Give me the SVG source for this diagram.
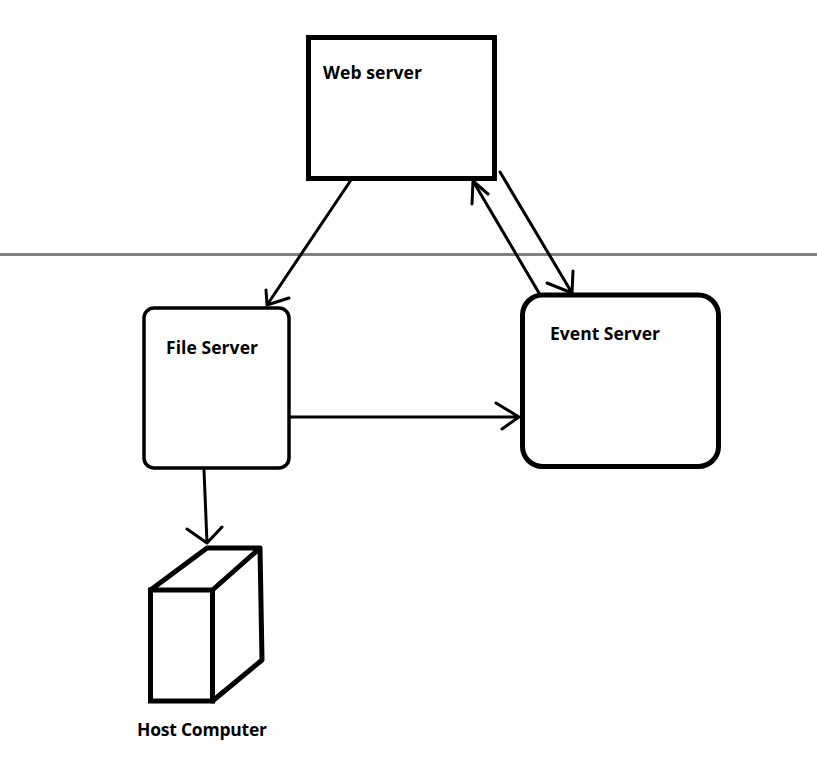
<svg xmlns="http://www.w3.org/2000/svg" width="817" height="773" viewBox="0 0 817 773">
<style>
.n{fill:#fff;stroke:#000;stroke-width:5}
.f{stroke-width:3.500}
.t{fill:none;stroke:#000;stroke-width:5;stroke-linejoin:round;stroke-linecap:round}
.c{fill:none;stroke:#000;stroke-width:3;stroke-linecap:round;stroke-linejoin:round}
text{font-family:"Open Sans","Noto Sans","DejaVu Sans",sans-serif;font-weight:700;font-size:17.500px;fill:#000}
</style>
<rect width="817" height="773" fill="#fff"/>
<line x1="0" y1="254.500" x2="817" y2="254.500" stroke="#808080" stroke-width="3"/>
<g id="web-server"><rect class="n" x="308.500" y="37.500" width="186" height="141"/><text x="323" y="79" textLength="99">Web server</text></g>
<g id="file-server"><rect class="n f" x="144" y="308" width="145" height="160" rx="10"/><text x="166" y="354" textLength="92">File Server</text></g>
<g id="event-server"><rect class="n" x="522.500" y="295" width="196" height="171.500" rx="20"/><text x="550" y="340" textLength="110">Event Server</text></g>
<g id="host-computer"><rect class="n" x="150.500" y="590" width="62" height="111"/><path class="t" d="M150.500 590L207 548H260L212.500 590M260 548L262 660L212.500 701"/><text x="137" y="736" textLength="130">Host Computer</text></g>
<g id="connectors">
<path class="c" d="M351 180L267 305M266 290L267 305L289 298"/>
<path class="c" d="M539 293L473 181M472 204L473 181L488 194"/>
<path class="c" d="M500 172L572 293M547 283L572 293L573 271"/>
<path class="c" d="M290 417H519M496 403L519 417L502 429"/>
<path class="c" d="M204 470L207 543M187 529L207 543L222 527"/>
</g>
</svg>
